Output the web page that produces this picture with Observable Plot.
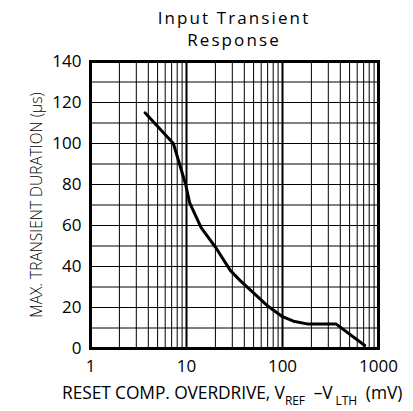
<!DOCTYPE html>
<html>
<head>
<meta charset="utf-8">
<script src="https://cdn.jsdelivr.net/npm/d3@7"></script>
<script src="https://cdn.jsdelivr.net/npm/@observablehq/plot@0.6"></script>
<style>
  html, body { margin: 0; padding: 0; background: #fff; overflow: hidden; }
  body { font-family: "Open Sans", sans-serif; color: #000; }
  #wrap { position: relative; width: 413px; height: 411px; }
  .title { position: absolute; left: 0; width: 468px; text-align: center;
           font-size: 17px; line-height: 20px; letter-spacing: 2.1px; white-space: nowrap; }
  #t1 { top: 8px; }
  #t2 { top: 30px; }
  #chart { position: absolute; left: 0; top: 50px; }
  #xlabel { position: absolute; left: 62px; top: 382px; white-space: nowrap;
            font-size: 17.4px; line-height: 20px; letter-spacing: -0.1px; }
  #xlabel sub { font-size: 12px; vertical-align: -6px; line-height: 0; }
</style>
</head>
<body>
<div id="wrap">
  <div class="title" id="t1">Input Transient</div>
  <div class="title" id="t2">Response</div>
  <div id="chart"></div>
  <div id="xlabel">RESET COMP. OVERDRIVE, V<sub>REF</sub>&nbsp; –V<sub>&nbsp;LTH</sub>&nbsp; (mV)</div>
</div>
<script>
// Curve: reset comparator overdrive (mV) vs max transient duration (µs)
const overdrive = [3.7, 7.3, 9.8, 10.8, 14.2, 20, 28.7, 36.5, 69, 100, 130, 180, 360, 720];
const duration  = [115, 100, 80, 71, 59, 49.5, 38, 33, 21, 15.5, 13.3, 12, 12, 1.5];

// Tick labels / grid values
const xTicks = [1, 10, 100, 1000];
const xMinorGrid = [2,3,4,5,6,7,8,9, 20,30,40,50,60,70,80,90, 200,300,400,500,600,700,800,900];
const xMajorGrid = [10, 100];
const yTicks = [0, 20, 40, 60, 80, 100, 120, 140];
const yGrid = [10, 20, 30, 40, 50, 60, 70, 80, 90, 100, 110, 120, 130];

const data = overdrive.map((x, i) => ({x, y: duration[i]}));

const chart = Plot.plot({
  width: 413,
  height: 330,
  marginTop: 11,
  marginBottom: 32,
  marginLeft: 90,
  marginRight: 35,
  style: { fontFamily: "'Open Sans', sans-serif", fontSize: "17px", color: "#000", background: "#fff" },
  x: { type: "log", domain: [1, 1000] },
  y: { domain: [0, 140] },
  marks: [
    Plot.ruleX(xMinorGrid, { stroke: "#000", strokeWidth: 1 }),
    Plot.ruleX(xMajorGrid, { stroke: "#000", strokeWidth: 2 }),
    Plot.ruleY(yGrid, { stroke: "#000", strokeWidth: 1 }),
    Plot.axisX(xTicks, { tickSize: 0, tickPadding: 11, tickFormat: d => String(d), label: null, fontSize: 17 }),
    Plot.axisY(yTicks, { tickSize: 0, tickPadding: 9, tickFormat: d => String(d), label: null, fontSize: 17 }),
    Plot.axisY({ ticks: [], tickSize: 0, label: "MAX. TRANSIENT DURATION (µs)",
      labelAnchor: "center", labelArrow: "none", labelOffset: 60, fontSize: 15.5, fontWeight: 300 }),
    Plot.line(data, { x: "x", y: "y", stroke: "#000", strokeWidth: 3, strokeLinejoin: "miter" }),
    Plot.frame({ stroke: "#000", strokeWidth: 3 })
  ]
});
document.getElementById("chart").appendChild(chart);
</script>
</body>
</html>
